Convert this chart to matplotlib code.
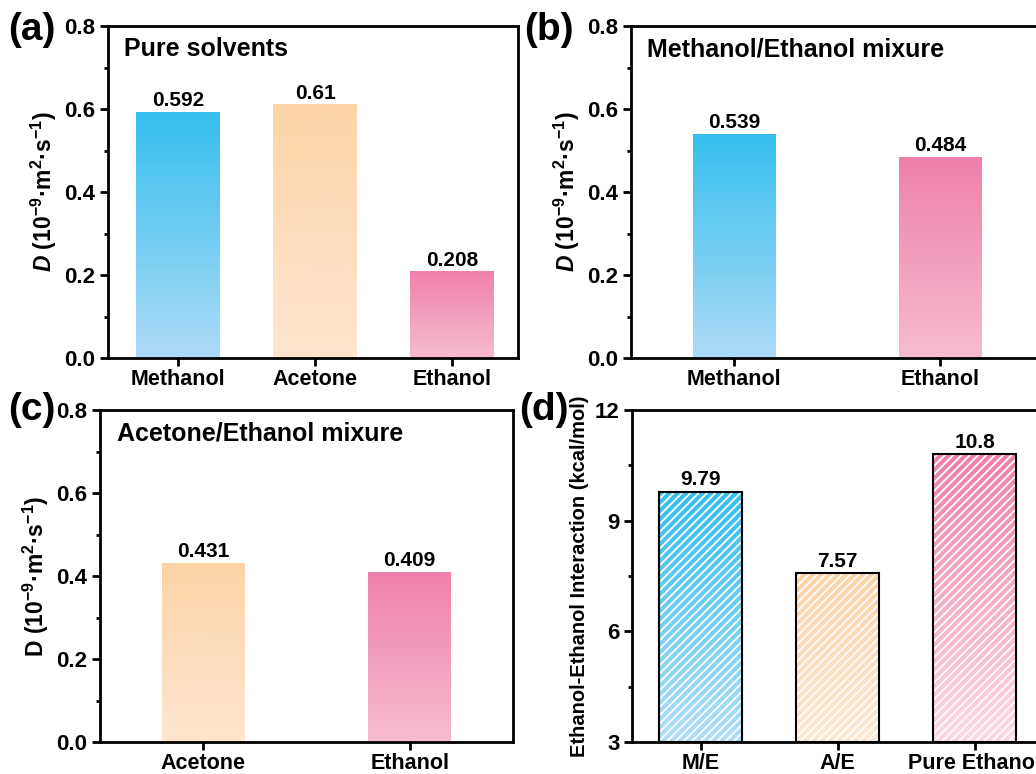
import numpy as np
import matplotlib
matplotlib.use("Agg")
import matplotlib.pyplot as plt
from matplotlib.colors import LinearSegmentedColormap
from matplotlib.ticker import MultipleLocator

plt.rcParams['font.family'] = ['Liberation Sans', 'DejaVu Sans']
plt.rcParams['font.weight'] = 'bold'
plt.rcParams['mathtext.fontset'] = 'custom'
plt.rcParams['mathtext.rm'] = 'Liberation Sans:bold'
plt.rcParams['mathtext.bf'] = 'Liberation Sans:bold'
plt.rcParams['mathtext.it'] = 'Liberation Sans:italic:bold'
plt.rcParams['hatch.linewidth'] = 1.3

# ---------------- data ----------------
a_categories = ["Methanol", "Acetone", "Ethanol"]
a_values = [0.592, 0.61, 0.208]
a_labels = ["0.592", "0.61", "0.208"]

b_categories = ["Methanol", "Ethanol"]
b_values = [0.539, 0.484]
b_labels = ["0.539", "0.484"]

c_categories = ["Acetone", "Ethanol"]
c_values = [0.431, 0.409]
c_labels = ["0.431", "0.409"]

d_categories = ["M/E", "A/E", "Pure Ethanol"]
d_values = [9.79, 7.57, 10.8]
d_labels = ["9.79", "7.57", "10.8"]

# gradient colours (top, bottom)
BLUE = ("#35BFEE", "#AEDBF7")
ORANGE = ("#FED4A7", "#FEE6D0")
PINK = ("#EE80AB", "#F7BCD0")
BLUE_D = ("#33BEEE", "#B2DEF8")
ORANGE_D = ("#FED2A4", "#FEE9D5")
PINK_D = ("#EE80AB", "#FFDAE5")

W, H = 1036, 774
fig = plt.figure(figsize=(W / 100, H / 100), dpi=100)

def px_axes(l, t, r, b):
    return fig.add_axes([l / W, 1 - b / H, (r - l) / W, (b - t) / H])

def grad_bar(ax, rect, colors, z=2):
    cmap = LinearSegmentedColormap.from_list("g", [colors[1], colors[0]])
    grad = np.linspace(0, 1, 256).reshape(-1, 1)
    x0, y0 = rect.get_x(), rect.get_y()
    ax.imshow(grad, cmap=cmap, extent=(x0, x0 + rect.get_width(), y0, y0 + rect.get_height()),
              origin='lower', aspect='auto', zorder=z, interpolation='bilinear')

def style_axes(ax, ylim, major, minor, ylabel, xlim):
    for s in ax.spines.values():
        s.set_linewidth(2.0)
    ax.set_ylim(*ylim)
    ax.set_xlim(*xlim)
    ax.yaxis.set_major_locator(MultipleLocator(major))
    ax.yaxis.set_minor_locator(MultipleLocator(minor))
    ax.tick_params(axis='y', which='major', direction='out', length=6, width=2, labelsize=16, pad=3)
    ax.tick_params(axis='y', which='minor', direction='out', length=3, width=2)
    ax.tick_params(axis='x', which='major', direction='out', length=6, width=2, labelsize=15.5, pad=2)
    ax.tick_params(axis='x', which='minor', bottom=False)
    ax.set_ylabel(ylabel, fontsize=16.5, fontweight='bold', labelpad=4)

def gradient_panel(ax, cats, vals, labs, cols, width):
    x = np.arange(1, len(cats) + 1)
    bars = ax.bar(x, vals, width=width, color='none', edgecolor='none', zorder=3)
    for rect, c in zip(bars, cols):
        grad_bar(ax, rect, c)
    for rect, t in zip(bars, labs):
        ax.annotate(t, (rect.get_x() + rect.get_width() / 2, rect.get_height()),
                    xytext=(0, 1.5), textcoords='offset points', ha='center', va='bottom',
                    fontsize=15, fontweight='bold')
    ax.set_xticks(x)
    ax.set_xticklabels(cats)
    return x

ylab_ab = r'$\mathit{D}$ $\mathrm{(10^{-9}}$·$\mathrm{m^{2}}$·$\mathrm{s^{-1})}$'
ylab_c = r'$\mathrm{D\ (10^{-9}}$·$\mathrm{m^{2}}$·$\mathrm{s^{-1})}$'

# (a)
axa = px_axes(108, 26, 518, 358)
gradient_panel(axa, a_categories, a_values, a_labels, [BLUE, ORANGE, PINK], 0.61)
style_axes(axa, (0, 0.8), 0.2, 0.1, ylab_ab, (0.49, 3.48))
axa.text(0.04, 0.93, "Pure solvents", transform=axa.transAxes, fontsize=18,
         fontweight='bold', va='center', ha='left')

# (b)
axb = px_axes(631, 26, 1043, 358)
gradient_panel(axb, b_categories, b_values, b_labels, [BLUE, PINK], 0.40)
style_axes(axb, (0, 0.8), 0.2, 0.1, ylab_ab, (0.5, 2.5))
axb.text(0.038, 0.93, "Methanol/Ethanol mixure", transform=axb.transAxes, fontsize=18,
         fontweight='bold', va='center', ha='left')

# (c)
axc = px_axes(100, 410, 513, 742)
gradient_panel(axc, c_categories, c_values, c_labels, [ORANGE, PINK], 0.40)
style_axes(axc, (0, 0.8), 0.2, 0.1, ylab_c, (0.5, 2.5))
axc.text(0.04, 0.93, "Acetone/Ethanol mixure", transform=axc.transAxes, fontsize=18,
         fontweight='bold', va='center', ha='left')

# (d)
axd = px_axes(632, 410, 1043, 742)
xd = np.arange(1, len(d_categories) + 1)
bars_d = axd.bar(xd, d_values, width=0.6, bottom=0, color='none', edgecolor='none', zorder=3)
style_axes(axd, (3, 12), 3, 1.5, "Ethanol-Ethanol Interaction (kcal/mol)", (0.5, 3.5))
axd.yaxis.label.set_fontsize(14.5)
for rect, c in zip(bars_d, [BLUE_D, ORANGE_D, PINK_D]):
    x0 = rect.get_x()
    cmap = LinearSegmentedColormap.from_list("g", [c[1], c[0]])
    grad = np.linspace(0, 1, 256).reshape(-1, 1)
    axd.imshow(grad, cmap=cmap, extent=(x0, x0 + rect.get_width(), 3, rect.get_height()),
               origin='lower', aspect='auto', zorder=2, interpolation='bilinear')
axd.bar(xd, [v - 3 for v in d_values], bottom=3, width=0.6, facecolor='none',
        edgecolor='white', hatch='////', linewidth=0, zorder=3)
axd.bar(xd, [v - 3 for v in d_values], bottom=3, width=0.6, facecolor='none',
        edgecolor='black', linewidth=1.5, zorder=4)
for xi, v, t in zip(xd, d_values, d_labels):
    axd.annotate(t, (xi, v), xytext=(0, 1.5), textcoords='offset points', ha='center',
                 va='bottom', fontsize=15, fontweight='bold')
axd.set_xticks(xd)
axd.set_xticklabels(d_categories)
axd.set_xlim(0.5, 3.5)
axd.set_ylim(3, 12)

for ax in (axa, axb, axc, axd):
    for lab in ax.get_yticklabels() + ax.get_xticklabels():
        lab.set_fontweight('bold')

# panel labels
fig.text(8 / W, 1 - 30 / H, "(a)", fontsize=28, fontweight='bold', va='center', ha='left')
fig.text(524 / W, 1 - 30 / H, "(b)", fontsize=28, fontweight='bold', va='center', ha='left')
fig.text(8 / W, 1 - 410 / H, "(c)", fontsize=28, fontweight='bold', va='center', ha='left')
fig.text(519 / W, 1 - 410 / H, "(d)", fontsize=28, fontweight='bold', va='center', ha='left')

fig.savefig("out.png", dpi=100)
